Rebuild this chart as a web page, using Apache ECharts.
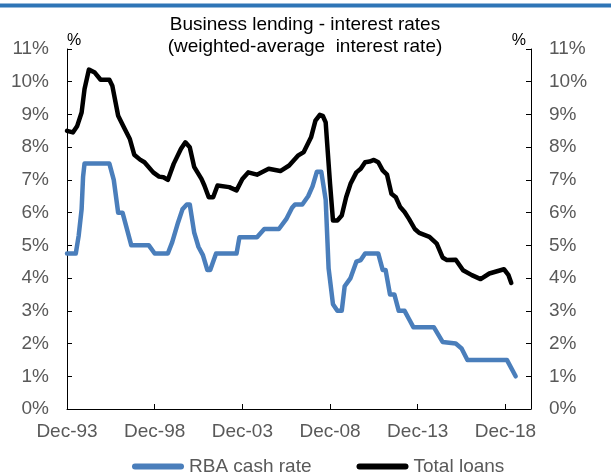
<!DOCTYPE html>
<html>
<head>
<meta charset="utf-8">
<script src="https://cdn.jsdelivr.net/npm/echarts@6/dist/echarts.min.js"></script>
<style>
html,body{margin:0;padding:0;background:#fff;}
#c{width:611px;height:473px;}
</style>
</head>
<body>
<div id="c"></div>
<script>
// ---- data ----
const xTickLabels = ['Dec-93', 'Dec-98', 'Dec-03', 'Dec-08', 'Dec-13', 'Dec-18'];
const yTickLabels = ['0%','1%','2%','3%','4%','5%','6%','7%','8%','9%','10%','11%'];

const rbaDates = ['1993-12','1994-06','1994-08','1994-10','1994-11','1994-12','1996-05','1996-08','1996-11','1997-02',
  '1997-08','1998-08','1998-12','1999-09','1999-12','2000-04','2000-07','2000-10','2000-12','2001-03',
  '2001-06','2001-09','2001-12','2002-02','2002-06','2003-08','2003-10','2004-10','2005-03','2006-01',
  '2006-06','2006-10','2006-12','2007-05','2007-09','2007-12','2008-03','2008-06','2008-09','2008-11',
  '2009-02','2009-05','2009-08','2009-10','2010-02','2010-06','2010-09','2010-12','2011-09','2011-12',
  '2012-02','2012-05','2012-08','2012-11','2013-03','2013-06','2013-09','2014-11','2015-05','2016-02',
  '2016-06','2016-10','2019-01','2019-07'];
const rbaValues = [4.75,4.75,5.3,6.1,7.1,7.5,7.5,7.0,6.0,6.0,
  5.0,5.0,4.75,4.75,5.1,5.7,6.1,6.25,6.25,5.4,
  4.95,4.7,4.25,4.25,4.75,4.75,5.25,5.25,5.5,5.5,
  5.8,6.15,6.25,6.25,6.5,6.8,7.25,7.25,6.4,4.3,
  3.2,3.0,3.0,3.75,4.0,4.5,4.55,4.75,4.75,4.25,
  4.25,3.5,3.5,3.0,3.0,2.75,2.5,2.5,2.05,2.0,
  1.85,1.5,1.5,1.0];

const loanDates = ['1993-12','1994-04','1994-07','1994-10','1994-12','1995-03','1995-07','1995-11','1996-05','1996-07',
  '1996-11','1997-03','1997-07','1997-10','1998-02','1998-05','1998-11','1999-03','1999-06','1999-09',
  '2000-01','2000-06','2000-09','2000-12','2001-03','2001-08','2001-10','2002-01','2002-04','2002-07',
  '2003-03','2003-08','2003-12','2004-04','2004-10','2005-06','2006-02','2006-08','2007-02','2007-06',
  '2007-11','2008-02','2008-05','2008-07','2008-09','2008-12','2009-02','2009-05','2009-08','2009-11',
  '2010-02','2010-06','2010-09','2010-12','2011-03','2011-06','2011-09','2011-12','2012-03','2012-06',
  '2012-09','2012-12','2013-03','2013-06','2013-10','2014-01','2014-08','2015-01','2015-05','2015-08',
  '2016-02','2016-07','2017-01','2017-07','2018-01','2018-11','2019-02','2019-04'];
const loanValues = [8.5,8.45,8.65,9.06,9.78,10.37,10.28,10.06,10.06,9.88,
  8.96,8.6,8.25,7.77,7.62,7.54,7.23,7.1,7.08,7.0,
  7.49,7.95,8.15,8.0,7.4,7.03,6.83,6.47,6.47,6.83,
  6.78,6.68,7.03,7.23,7.16,7.34,7.27,7.44,7.74,7.85,
  8.3,8.81,8.99,8.96,8.76,6.88,5.76,5.76,5.91,6.47,
  6.88,7.23,7.34,7.54,7.56,7.61,7.54,7.29,7.16,6.58,
  6.47,6.17,6.02,5.81,5.5,5.38,5.26,5.05,4.63,4.55,
  4.56,4.24,4.09,3.97,4.14,4.27,4.1,3.85];

// months since Dec-1993
function monthsFromStart(s) {
  const p = s.split('-');
  return (parseInt(p[0], 10) - 1993) * 12 + (parseInt(p[1], 10) - 12);
}
function pairs(dates, vals) {
  return dates.map((d, i) => [monthsFromStart(d), vals[i]]);
}

const grey = '#595959';
const fontFam = '"Liberation Sans", Arial, sans-serif';

const chart = echarts.init(document.getElementById('c'), null, {renderer: 'canvas'});

const yAxisCommon = {
  type: 'value', min: 0, max: 11, interval: 1,
  axisLine: {show: true, lineStyle: {color: '#000', width: 1}},
  axisTick: {show: true, inside: true, length: 5, lineStyle: {color: '#000'}},
  splitLine: {show: false},
  axisLabel: {color: grey, fontSize: 19, fontFamily: fontFam, margin: 18,
    formatter: v => yTickLabels[Math.round(v)] || ''},
  name: '%', nameLocation: 'end', nameGap: 0
};

chart.setOption({
  animation: false,
  backgroundColor: '#fff',
  title: {
    text: 'Business lending - interest rates\n(weighted-average  interest rate)',
    left: 300, top: 9, textAlign: 'center',
    textStyle: {fontSize: 19, fontWeight: 'normal', color: '#000', fontFamily: fontFam, lineHeight: 22}
  },
  graphic: [{
    type: 'rect', shape: {x: 0, y: 3.5, width: 611, height: 4},
    style: {fill: '#2E75B6'}, silent: true
  }],
  grid: {left: 67, top: 49, width: 464, height: 360, containLabel: false, outerBoundsMode: 'none'},
  legend: {
    left: 127, top: 452, itemWidth: 52, itemHeight: 6, itemGap: 45,
    icon: 'path://M3,0 L49,0 A3,3 0 0 1 49,6 L3,6 A3,3 0 0 1 3,0 Z',
    textStyle: {color: grey, fontSize: 19, fontFamily: fontFam},
    data: ['RBA cash rate', 'Total loans']
  },
  xAxis: {
    type: 'value', min: 0, max: 317.5, interval: 60,
    axisLine: {show: true, lineStyle: {color: '#000', width: 1}},
    axisTick: {show: true, inside: true, length: 5, lineStyle: {color: '#000'}},
    splitLine: {show: false},
    axisLabel: {color: grey, fontSize: 19, fontFamily: fontFam, margin: 13, showMaxLabel: false,
      formatter: v => (v % 60 === 0 ? (xTickLabels[v / 60] || '') : '')}
  },
  yAxis: [
    Object.assign({}, yAxisCommon, {position: 'left',
      nameTextStyle: {color: '#000', fontSize: 16, fontFamily: fontFam, align: 'left'}}),
    Object.assign({}, yAxisCommon, {position: 'right',
      nameTextStyle: {color: '#000', fontSize: 16, fontFamily: fontFam, align: 'right', padding: [0, 5, 0, 0]}})
  ],
  series: [
    {
      name: 'RBA cash rate', type: 'line', yAxisIndex: 0,
      data: pairs(rbaDates, rbaValues),
      showSymbol: false, symbol: 'none',
      itemStyle: {color: '#4A7EBB'},
      lineStyle: {color: '#4A7EBB', width: 4.5, cap: 'round', join: 'round'}
    },
    {
      name: 'Total loans', type: 'line', yAxisIndex: 0,
      data: pairs(loanDates, loanValues),
      showSymbol: false, symbol: 'none',
      itemStyle: {color: '#000'},
      lineStyle: {color: '#000', width: 4.5, cap: 'round', join: 'round'}
    }
  ]
});
</script>
</body>
</html>
